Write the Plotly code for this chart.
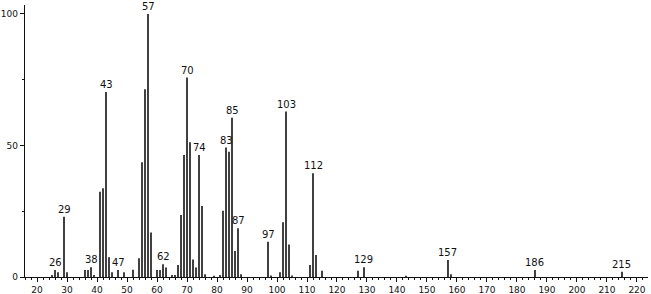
import plotly.graph_objects as go

mz = [25, 26, 27, 29, 30, 36, 37, 38, 39, 41, 42, 43, 44, 45, 47, 49, 52, 54, 55, 56, 57, 58,
      60, 61, 62, 63, 65, 66, 67, 68, 69, 70, 71, 72, 73, 74, 75, 76, 79, 81, 82, 83, 84, 85,
      86, 87, 88, 97, 98, 101, 102, 103, 104, 105, 111, 112, 113, 115, 127, 129, 143, 157,
      158, 186, 215]
intensity = [0.8, 2.7, 1.8, 22.9, 1.8, 2.7, 2.7, 3.7, 0.8, 32.4, 33.7, 70.3, 7.5, 1.8, 2.7,
             1.8, 2.8, 7.1, 43.6, 71.4, 100, 16.9, 2.7, 2.7, 4.8, 3.6, 0.8, 0.8, 4.6, 23.6,
             46.4, 75.8, 51.2, 6.7, 3.6, 46.4, 27.0, 1.0, 0.5, 0.8, 25.2, 49.2, 47.6, 60.5,
             9.9, 18.5, 1.0, 13.4, 0.6, 1.8, 20.8, 62.9, 12.4, 0.6, 4.6, 39.4, 8.4, 2.4,
             2.4, 3.7, 0.5, 6.5, 1.0, 2.7, 2.0]
labeled = [26, 29, 38, 43, 47, 57, 62, 70, 74, 83, 85, 87, 97, 103, 112, 129, 157, 186, 215]

xs, ys = [], []
for m, h in zip(mz, intensity):
    xs += [m, m, None]
    ys += [0, h, None]

fig = go.Figure()
fig.add_trace(go.Scatter(x=xs, y=ys, mode="lines",
                         line=dict(color="#111111", width=1.6),
                         hoverinfo="skip", showlegend=False))

lookup = dict(zip(mz, intensity))
for m in labeled:
    fig.add_annotation(x=m, y=lookup[m], text=str(m), showarrow=False,
                       yanchor="bottom", yshift=0,
                       font=dict(family="DejaVu Sans", size=10, color="#111111"))

fig.update_layout(
    width=651, height=294,
    margin=dict(l=25, r=3, t=5, b=17),
    paper_bgcolor="white", plot_bgcolor="white",
    xaxis=dict(range=[16, 223.67], tickvals=list(range(20, 221, 10)),
               automargin=False,
               ticks="outside", ticklen=4, tickwidth=1, tickcolor="#111111",
               minor=dict(dtick=2, tick0=0, ticks="outside", ticklen=2, tickcolor="#111111"),
               showline=True, linecolor="#111111", linewidth=1.3,
               showgrid=False, zeroline=False,
               tickfont=dict(family="DejaVu Sans", size=9, color="#111111")),
    yaxis=dict(range=[0, 103.4], tickvals=[0, 50, 100],
               automargin=False,
               ticks="outside", ticklen=4, tickwidth=1, tickcolor="#111111",
               minor=dict(dtick=25, ticks="outside", ticklen=2, tickcolor="#111111"),
               showline=True, linecolor="#111111", linewidth=1.3,
               showgrid=False, zeroline=False,
               tickfont=dict(family="DejaVu Sans", size=9, color="#111111")),
)

fig.write_html("out.html")
